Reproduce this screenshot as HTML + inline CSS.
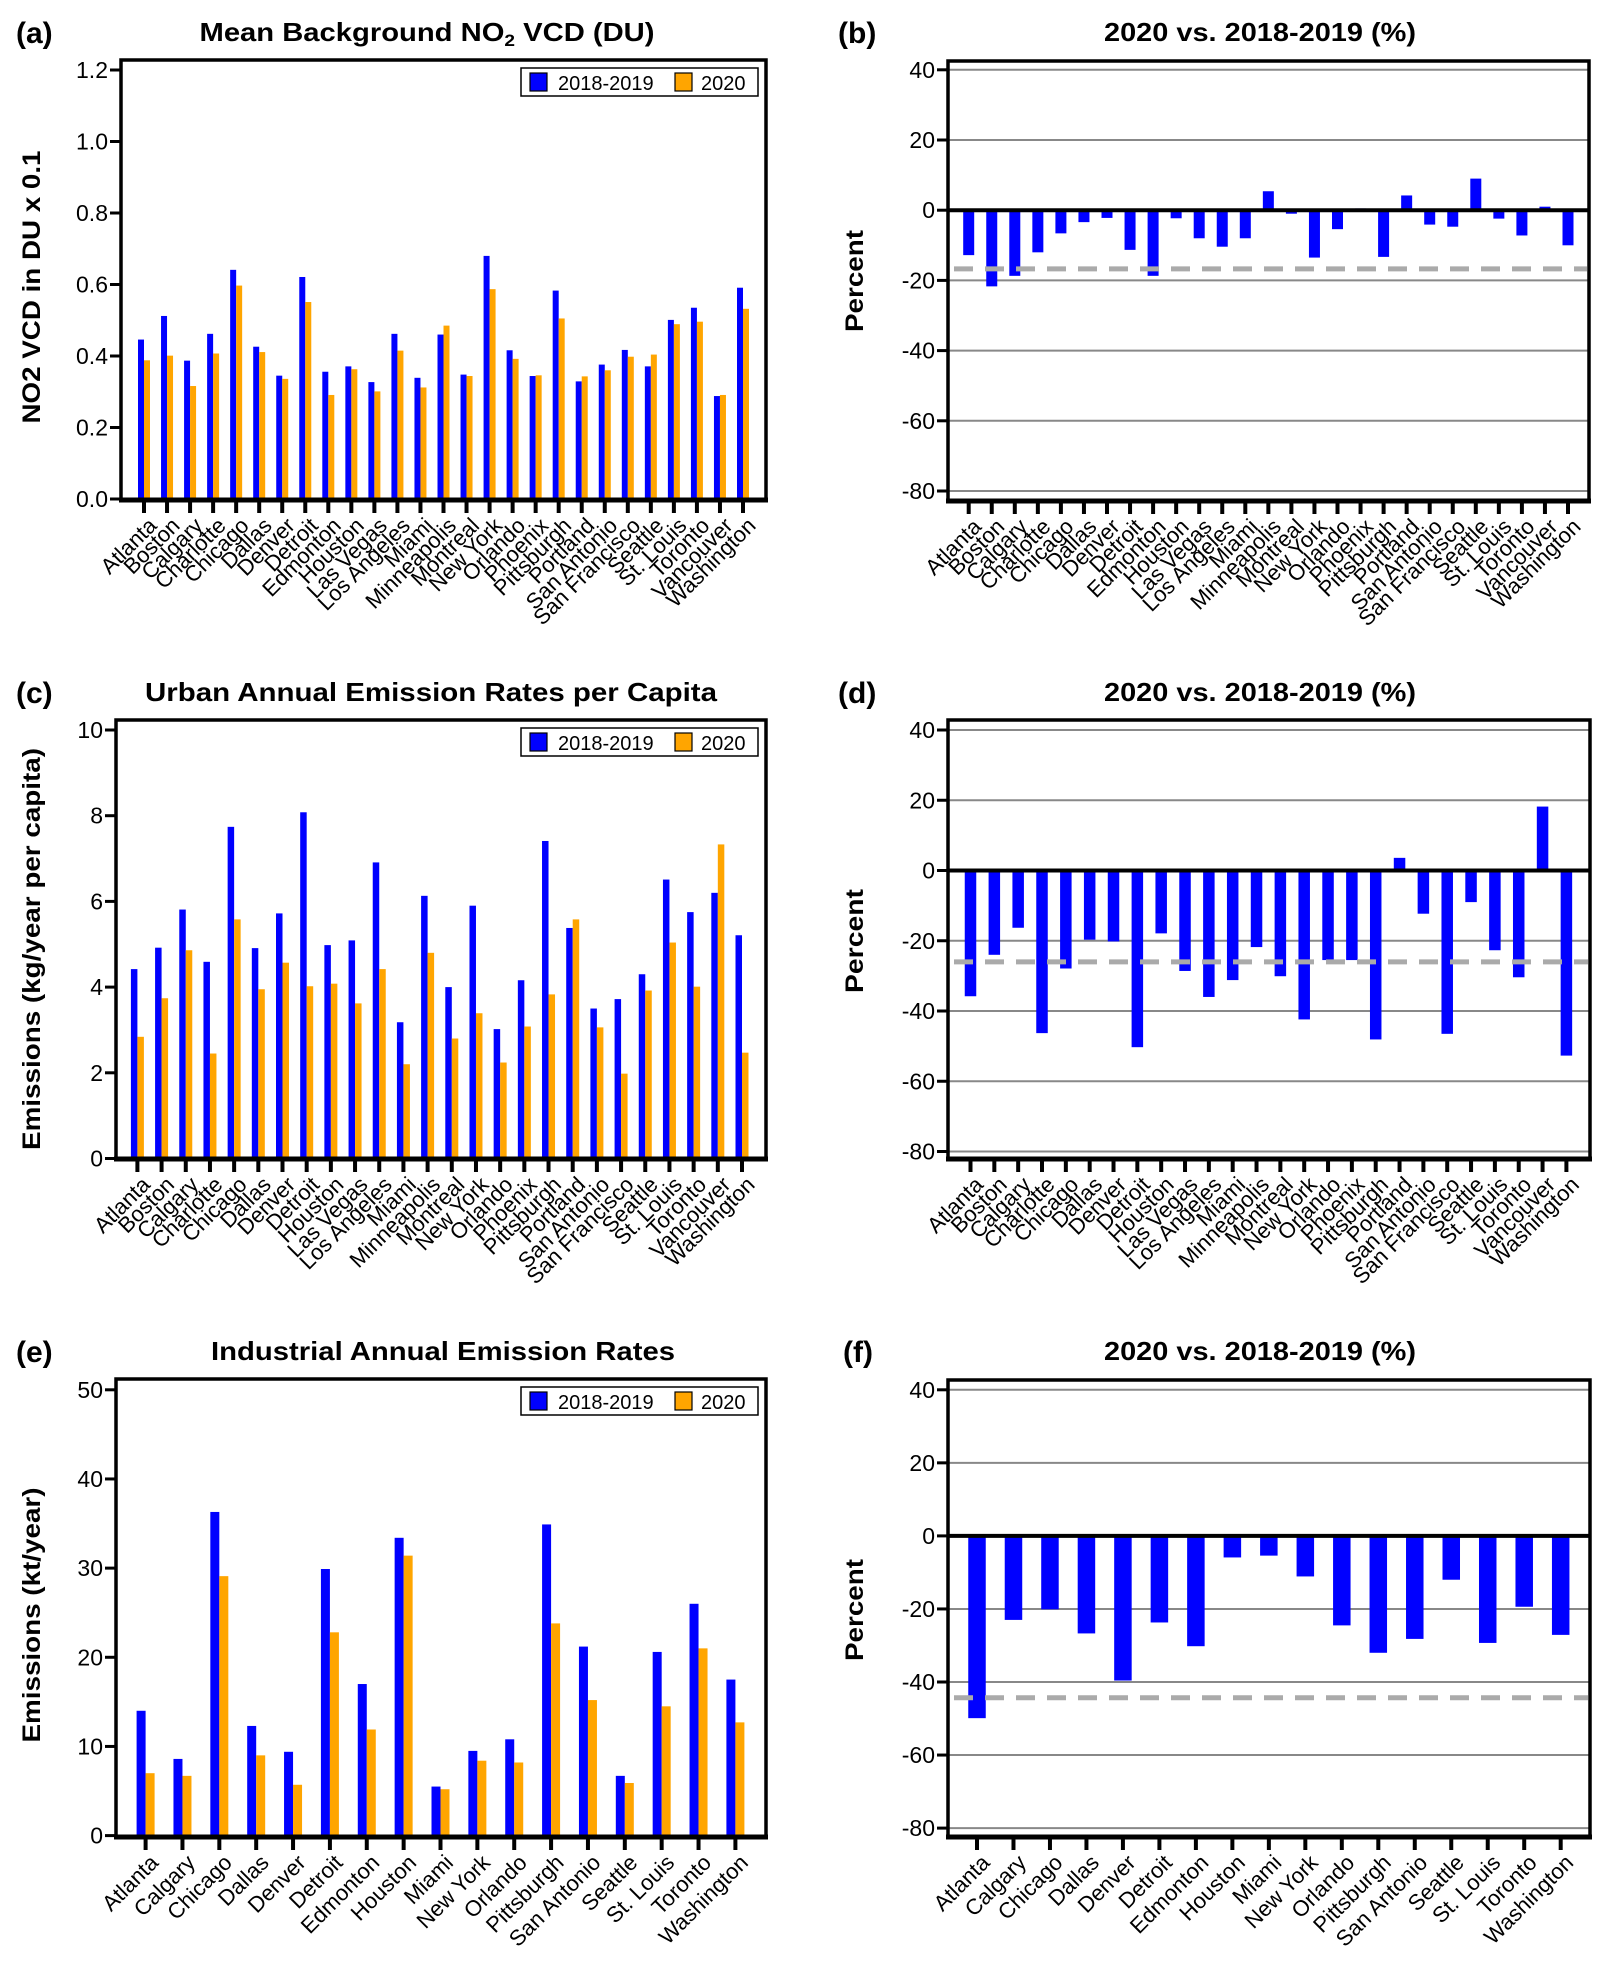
<!DOCTYPE html>
<html><head><meta charset="utf-8"><style>
html,body{margin:0;padding:0;background:#fff;}
svg{display:block;font-family:"Liberation Sans",Arial,sans-serif;}
</style></head><body>
<svg id="fig" width="1606" height="1974" viewBox="0 0 1606 1974" xmlns="http://www.w3.org/2000/svg"></svg>
<script>
const citiesAll = ["Atlanta","Boston","Calgary","Charlotte","Chicago","Dallas","Denver","Detroit","Edmonton","Houston","Las Vegas","Los Angeles","Miami","Minneapolis","Montreal","New York","Orlando","Phoenix","Pittsburgh","Portland","San Antonio","San Francisco","Seattle","St. Louis","Toronto","Vancouver","Washington"];
const bgBase = [0.446,0.512,0.387,0.462,0.641,0.426,0.345,0.621,0.356,0.371,0.327,0.462,0.339,0.460,0.348,0.680,0.416,0.344,0.583,0.329,0.376,0.417,0.371,0.501,0.535,0.288,0.591];
const bg2020 = [0.388,0.401,0.316,0.407,0.597,0.411,0.336,0.551,0.291,0.363,0.301,0.415,0.312,0.485,0.344,0.587,0.392,0.346,0.505,0.343,0.360,0.398,0.404,0.489,0.496,0.291,0.532];
const bgPct = [-12.8,-21.7,-18.7,-12,-6.6,-3.4,-2.2,-11.3,-18.7,-2.3,-8,-10.4,-8,5.4,-1,-13.5,-5.4,0.5,-13.3,4.2,-4.1,-4.7,9,-2.4,-7.2,1,-10];
const bgMean = -16.7;

const citiesUrban = ["Atlanta","Boston","Calgary","Charlotte","Chicago","Dallas","Denver","Detroit","Houston","Las Vegas","Los Angeles","Miami","Minneapolis","Montreal","New York","Orlando","Phoenix","Pittsburgh","Portland","San Antonio","San Francisco","Seattle","St. Louis","Toronto","Vancouver","Washington"];
const urbBase = [4.42,4.92,5.81,4.59,7.74,4.91,5.72,8.08,4.98,5.09,6.91,3.18,6.13,4.0,5.9,3.02,4.16,7.41,5.38,3.5,3.72,4.3,6.51,5.75,6.2,5.21];
const urb2020 = [2.84,3.74,4.86,2.45,5.58,3.95,4.57,4.02,4.08,3.62,4.42,2.2,4.8,2.8,3.39,2.24,3.08,3.83,5.58,3.06,1.98,3.92,5.04,4.01,7.33,2.47];
const urbPct = [-35.8,-24,-16.3,-46.3,-27.9,-19.7,-20.2,-50.3,-17.9,-28.6,-36,-31.2,-21.8,-30.1,-42.4,-25.5,-25.5,-48.1,3.6,-12.3,-46.5,-9,-22.7,-30.4,18.2,-52.7];
const urbMean = -26;

const citiesInd = ["Atlanta","Calgary","Chicago","Dallas","Denver","Detroit","Edmonton","Houston","Miami","New York","Orlando","Pittsburgh","San Antonio","Seattle","St. Louis","Toronto","Washington"];
const indBase = [14.0,8.6,36.3,12.3,9.4,29.9,17.0,33.4,5.5,9.5,10.8,34.9,21.2,6.7,20.6,26.0,17.5];
const ind2020 = [7.0,6.7,29.1,9.0,5.7,22.8,11.9,31.4,5.2,8.4,8.2,23.8,15.2,5.9,14.5,21.0,12.7];
const indPct = [-49.9,-23,-20.1,-26.7,-39.6,-23.7,-30.2,-5.9,-5.4,-11.1,-24.5,-32,-28.2,-12,-29.3,-19.4,-27.1];
const indMean = -44.3;

const ticksA = [0,0.2,0.4,0.6,0.8,1.0,1.2];
const ticksC = [0,2,4,6,8,10];
const ticksE = [0,10,20,30,40,50];
const ticksPct = [-80,-60,-40,-20,0,20,40];

const NS="http://www.w3.org/2000/svg";
const svg=document.getElementById('fig');
function mk(tag,attrs,parent,text){const e=document.createElementNS(NS,tag);for(const k in attrs)e.setAttribute(k,attrs[k]);if(text!==undefined)e.textContent=text;(parent||svg).appendChild(e);return e;}

function panel(cfg){
  const g=mk('g',{});
  
  
  const ys=v=>cfg.y0px+(v-cfg.v0)*(cfg.y1px-cfg.y0px)/(cfg.v1-cfg.v0);
  const n=cfg.cats.length;
  const xs=i=>cfg.t0+i*(cfg.t1-cfg.t0)/(n-1);
  const pl=mk('text',{x:cfg.letterX,y:cfg.titleY+2,'font-size':30,'font-weight':'bold'},g,cfg.letter);
  
  
  const tt=mk('text',{x:cfg.titleX,y:cfg.titleY,'font-size':26,'font-weight':'bold','text-anchor':'middle',textLength:cfg.titleLen,lengthAdjust:'spacingAndGlyphs'},g);
  
  
  if(cfg.no2){tt.appendChild(document.createTextNode('Mean Background NO'));mk('tspan',{'font-size':17,dy:5},tt,'2');mk('tspan',{dy:-5},tt,' VCD (DU)');}
  else tt.textContent=cfg.title;
  if(cfg.grid){cfg.ticks.forEach(v=>{const l=mk('line',{x1:cfg.L,x2:cfg.R,y1:ys(v),y2:ys(v),stroke:'#888','stroke-width':2},g);});}
  cfg.ticks.forEach(v=>{
    mk('line',{x1:cfg.L-11,x2:cfg.L,y1:ys(v),y2:ys(v),stroke:'#000','stroke-width':3},g);
    const t=mk('text',{x:cfg.L-13,y:ys(v)+8,'font-size':23,'text-anchor':'end'},g,cfg.fmt(v));
    
    
  });
  const yt=mk('text',{x:0,y:0,'font-size':25,'font-weight':'bold','text-anchor':'middle',transform:`translate(${cfg.ytX},${cfg.ytY}) rotate(-90)`,textLength:cfg.ytLen,lengthAdjust:'spacingAndGlyphs'},g,cfg.ytitle);
  
  
  const base=ys(0);
  if(cfg.pct){
    cfg.vals.forEach((v,i)=>{const y=ys(v);const r=mk('rect',{x:xs(i)-cfg.bw/2,y:Math.min(y,base),width:cfg.bw,height:Math.abs(base-y),fill:'#0000ff'},g);});
    const zl=mk('line',{x1:cfg.L,x2:cfg.R,y1:base,y2:base,stroke:'#000','stroke-width':4},g);
    
    
    const dl=mk('line',{x1:cfg.L+6,x2:cfg.R-2,y1:ys(cfg.mean),y2:ys(cfg.mean),stroke:'#aaaaaa','stroke-width':5,'stroke-dasharray':'19,12'},g);
    
    
  } else {
    cfg.vals.forEach((v,i)=>{const y=ys(v);const r=mk('rect',{x:xs(i)-cfg.bw,y:y,width:cfg.bw,height:base-y,fill:'#0000ff'},g);});
    cfg.vals2.forEach((v,i)=>{const y=ys(v);const r=mk('rect',{x:xs(i),y:y,width:cfg.bw,height:base-y,fill:'#ffa500'},g);});
  }
  const fr=mk('rect',{x:cfg.L,y:cfg.T,width:cfg.R-cfg.L,height:cfg.B-cfg.T,fill:'none',stroke:'#000','stroke-width':3.5},g);
  
  
  mk('line',{x1:cfg.L-2,x2:cfg.R+2,y1:cfg.B,y2:cfg.B,stroke:'#000','stroke-width':5},g);
  cfg.cats.forEach((c,i)=>{
    const x=xs(i);
    mk('line',{x1:x,x2:x,y1:cfg.B,y2:cfg.B+13,stroke:'#000','stroke-width':4},g);
    const t=mk('text',{x:0,y:0,'font-size':22,'text-anchor':'end',transform:`translate(${x+14},${cfg.B+27}) rotate(-45)`},g,c);
    
    
  });
  if(!cfg.pct){
    const lg=mk('g',{},g);
    
    
    const lx=cfg.R-245, ly=cfg.T+8;
    mk('rect',{x:lx,y:ly,width:237,height:28,fill:'#fff',stroke:'#000','stroke-width':1.5},lg);
    mk('rect',{x:lx+9,y:ly+5,width:17,height:18,fill:'#0000ff',stroke:'#000','stroke-width':1.2},lg);
    mk('text',{x:lx+37,y:ly+22,'font-size':20},lg,'2018-2019');
    mk('rect',{x:lx+154,y:ly+5,width:17,height:18,fill:'#ffa500',stroke:'#000','stroke-width':1.2},lg);
    mk('text',{x:lx+180,y:ly+22,'font-size':20},lg,'2020');
  }
}
const f1=v=>v.toFixed(1), f0=v=>String(v);
panel({name:'panel-a-background-no2',letter:'(a)',letterX:16,title:'',no2:true,titleX:427,titleY:41,titleLen:455,
  L:121,R:766,T:60,B:500,v0:0,y0px:499,v1:1.2,y1px:70,ticks:ticksA,fmt:f1,
  ytitle:'NO2 VCD in DU x 0.1',ytX:40,ytY:287,ytLen:273,cats:citiesAll,vals:bgBase,vals2:bg2020,bw:6,
  t0:144,t1:743});
panel({name:'panel-b-background-change',letter:'(b)',letterX:838,title:'2020 vs. 2018-2019 (%)',titleX:1260,titleY:41,titleLen:312,
  L:948,R:1589,T:61,B:501,v0:0,y0px:210.2,v1:40,y1px:69.8,ticks:ticksPct,fmt:f0,pct:true,mean:bgMean,grid:true,
  ytitle:'Percent',ytX:863,ytY:281,ytLen:102,cats:citiesAll,vals:bgPct,bw:11,
  t0:968.7,t1:1568});
panel({name:'panel-c-urban-emissions',letter:'(c)',letterX:16,title:'Urban Annual Emission Rates per Capita',titleX:431,titleY:701,titleLen:572,
  L:116,R:766,T:720,B:1159,v0:0,y0px:1158.5,v1:10,y1px:730,ticks:ticksC,fmt:f0,
  ytitle:'Emissions (kg/year per capita)',ytX:40,ytY:949,ytLen:402,cats:citiesUrban,vals:urbBase,vals2:urb2020,bw:6.5,
  t0:137.4,t1:742});
panel({name:'panel-d-urban-change',letter:'(d)',letterX:838,title:'2020 vs. 2018-2019 (%)',titleX:1260,titleY:701,titleLen:312,
  L:948,R:1590,T:720,B:1159,v0:0,y0px:870.5,v1:40,y1px:730,ticks:ticksPct,fmt:f0,pct:true,mean:urbMean,grid:true,
  ytitle:'Percent',ytX:863,ytY:941,ytLen:104,cats:citiesUrban,vals:urbPct,bw:11.5,
  t0:970.5,t1:1566.4});
panel({name:'panel-e-industrial-emissions',letter:'(e)',letterX:16,title:'Industrial Annual Emission Rates',titleX:443,titleY:1360,titleLen:464,
  L:116,R:766,T:1379,B:1837,v0:0,y0px:1835.6,v1:50,y1px:1389.8,ticks:ticksE,fmt:f0,
  ytitle:'Emissions (kt/year)',ytX:40,ytY:1615,ytLen:255,cats:citiesInd,vals:indBase,vals2:ind2020,bw:9,
  t0:145.6,t1:735.4});
panel({name:'panel-f-industrial-change',letter:'(f)',letterX:843,title:'2020 vs. 2018-2019 (%)',titleX:1260,titleY:1360,titleLen:312,
  L:948,R:1590,T:1380,B:1837,v0:0,y0px:1535.9,v1:40,y1px:1389.8,ticks:ticksPct,fmt:f0,pct:true,mean:indMean,grid:true,
  ytitle:'Percent',ytX:863,ytY:1610,ytLen:102,cats:citiesInd,vals:indPct,bw:17.5,
  t0:977,t1:1560.7});
</script>
</body></html>
